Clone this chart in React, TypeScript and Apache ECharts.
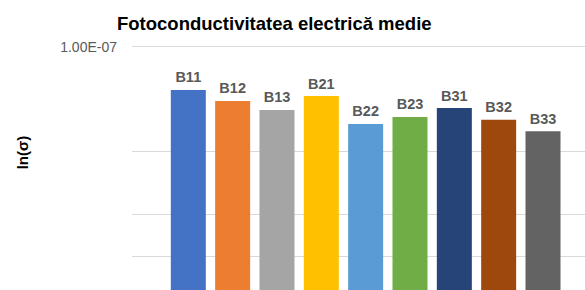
import React, { useEffect, useRef } from "react";
import * as echarts from "echarts";

const categories = ["B11", "B12", "B13", "B21", "B22", "B23", "B31", "B32", "B33"];
const values = [1.331e-7, 1.431e-7, 1.518e-7, 1.385e-7, 1.665e-7, 1.59e-7, 1.499e-7, 1.619e-7, 1.747e-7];
const colors = ["#4472C4", "#ED7D31", "#A5A5A5", "#FFC000", "#5B9BD5", "#70AD47", "#264478", "#9E480E", "#636363"];
const gridValues = [1e-7, 2e-7, 3e-7, 4e-7, 5e-7, 6e-7, 7e-7, 8e-7, 9e-7];
const axisMin = 1e-7;
const axisMax = 1e-6;
const tickLabel = "1.00E-07";
const titleText = "Fotoconductivitatea electrică medie";
const yName = "ln(σ)";

const FONT = "'Liberation Sans', Arial, sans-serif";

export default function App() {
  const ref = useRef<HTMLDivElement>(null);
  useEffect(() => {
    if (!ref.current) return;
    const chart = echarts.init(ref.current, undefined, { renderer: "svg" });
    const lg = (v: number) => Math.log10(v);
    chart.setOption({
      animation: false,
      backgroundColor: "#ffffff",
      textStyle: { fontFamily: FONT },
      title: {
        text: titleText,
        left: 112,
        top: 9,
        textStyle: { fontFamily: FONT, fontSize: 18.5, fontWeight: "bold", color: "#000000" },
      },
      grid: {
        left: 132,
        top: 46.5,
        width: 458,
        height: 350,
        outerBoundsMode: "none",
        containLabel: false,
      },
      xAxis: {
        type: "value",
        min: -1.27,
        max: 9.06,
        show: false,
        splitLine: { show: false },
      },
      yAxis: {
        type: "value",
        inverse: true,
        min: lg(axisMin),
        max: lg(axisMax),
        interval: 1,
        axisLine: { show: false },
        axisTick: { show: false },
        splitLine: { show: false },
        axisLabel: {
          show: true,
          margin: 15,
          fontSize: 14,
          color: "#595959",
          fontFamily: FONT,
          formatter: (v: number) => (Math.abs(v - lg(axisMin)) < 1e-9 ? tickLabel : ""),
        },
      },
      series: [
        {
          type: "bar",
          z: 2,
          barWidth: 35,
          clip: true,
          data: values.map((v, i) => ({ value: [i, lg(v)], itemStyle: { color: colors[i] } })),
          label: {
            show: true,
            position: "top",
            distance: 5,
            formatter: (p: any) => categories[p.dataIndex],
            fontFamily: FONT,
            fontSize: 14.5,
            fontWeight: "bold",
            color: "#595959",
          },
          markLine: {
            silent: true,
            z: 1,
            symbol: ["none", "none"],
            label: { show: false },
            lineStyle: { color: "#d9d9d9", width: 1, type: "solid" },
            emphasis: { disabled: true },
            data: gridValues.map((v) => ({ yAxis: lg(v) })),
          },
        },
      ],
      graphic: [
        {
          type: "text",
          x: 22.5,
          y: 152.5,
          rotation: Math.PI / 2,
          style: {
            text: yName,
            fontFamily: FONT,
            fontSize: 15,
            fontWeight: "bold",
            fill: "#000000",
            textAlign: "center",
            textVerticalAlign: "middle",
          },
        },
      ],
    });
    return () => chart.dispose();
  }, []);
  return (
    <div
      ref={ref}
      style={{ position: "fixed", left: 0, top: 0, width: 585, height: 290, background: "#fff" }}
    />
  );
}
